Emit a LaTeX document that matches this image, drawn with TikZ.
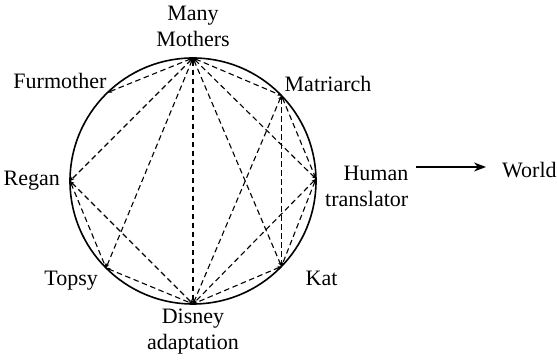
\documentclass[tikz,border=0pt]{standalone}
\usepackage{fontspec}
\setmainfont{Liberation Serif}
\usepackage{tikz}
\usetikzlibrary{calc,positioning,arrows.meta}

\begin{document}
\begin{tikzpicture}[x=1pt, y=1pt,
    every node/.style={font=\fontsize{22}{26}\selectfont, inner sep=0pt},
    link/.style={dash pattern=on 5.5pt off 3.5pt, line width=1.1pt, {Stealth[length=4.5pt,width=3.6pt]}-{Stealth[length=4.5pt,width=3.6pt]}},
    flow/.style={line width=1.3pt, -{Stealth[length=12pt,width=9pt]}}]
        \useasboundingbox (0,0) rectangle (557,361);
        \coordinate (c) at (193,180);
        \draw[line width=1.6pt] (c) circle[radius=123pt];
        % points on the circle
        \coordinate (mm) at ($(c)+(90:123pt)$);
        \coordinate (mat) at ($(c)+(44:123pt)$);
        \coordinate (hum) at ($(c)+(1:123pt)$);
        \coordinate (kat) at ($(c)+(316:123pt)$);
        \coordinate (dis) at ($(c)+(270:123pt)$);
        \coordinate (top) at ($(c)+(225:123pt)$);
        \coordinate (reg) at ($(c)+(180:123pt)$);
        \coordinate (fur) at ($(c)+(134:123pt)$);
        % labels
        \node[align=center, above=11pt of mm] (mmtext) {Many\\Mothers};
        \node[above right=4pt and 3pt of mat] (mattext) {Matriarch};
        \node[align=right, right=9pt of hum, yshift=-8pt] (humtext) {Human\\translator};
        \node[below right=4pt and 24pt of kat] (kattext) {Kat};
        \node[align=center, below=5pt of dis] (distext) {Disney\\adaptation};
        \node[below left=3pt and 8pt of top] (toptext) {Topsy};
        \node[left=10pt of reg] (regtext) {Regan};
        \node[above left=4pt and 1pt of fur] (furtext) {Furmother};
        \node[anchor=west] (world) at (502,191) {World};
        % connections
        \foreach \a/\b in {mm/fur, mm/reg, mm/top, mm/dis, mm/kat, mm/hum, mm/mat,
                           mat/hum, mat/kat, mat/dis, hum/kat, hum/dis, kat/dis,
                           reg/top, reg/dis, top/dis}
            \draw[link] (\a) -- (\b);
        \draw[flow] ($(humtext.east |- world.west)+(8pt,3pt)$) -- ($(world.west)+(-16pt,3pt)$);
    \end{tikzpicture}
\end{document}
